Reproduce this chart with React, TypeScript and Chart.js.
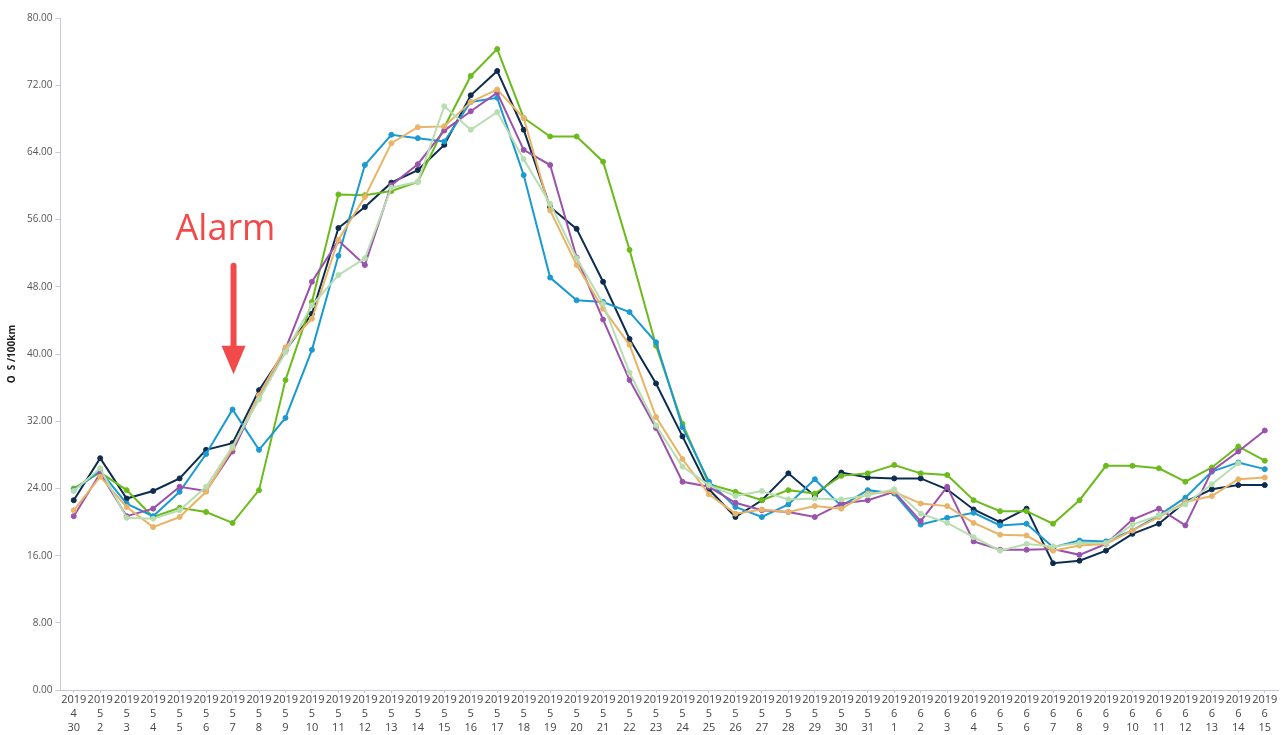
import React, { useEffect, useRef } from "react";
import { Chart, registerables } from "chart.js";

Chart.register(...registerables);

const years = Array(46).fill("2019");
const months = ["4", ...Array(31 - 1).fill("5"), ...Array(15).fill("6")];
const days = ["30", ...Array.from({ length: 30 }, (_, i) => String(i + 2)), ...Array.from({ length: 15 }, (_, i) => String(i + 1))];

const navyValues = [22.6, 27.6, 22.8, 23.7, 25.2, 28.6, 29.4, 35.7, 40.4, 44.8, 55.0, 57.5, 60.4, 61.9, 64.9, 70.8, 73.7, 66.7, 57.5, 54.9, 48.6, 41.8, 36.5, 30.2, 23.9, 20.6, 22.6, 25.8, 23.1, 25.9, 25.3, 25.2, 25.2, 23.9, 21.5, 20.0, 21.6, 15.1, 15.4, 16.6, 18.6, 19.8, 22.4, 23.9, 24.4, 24.4];
const blueValues = [23.8, 26.1, 22.2, 20.7, 23.6, 28.1, 33.4, 28.6, 32.4, 40.5, 51.7, 62.5, 66.1, 65.7, 65.3, 70.0, 70.5, 61.3, 49.1, 46.4, 46.2, 45.0, 41.4, 31.3, 24.8, 21.8, 20.6, 22.1, 25.1, 21.9, 23.8, 23.4, 19.7, 20.5, 21.1, 19.6, 19.8, 17.0, 17.8, 17.7, 19.0, 20.8, 22.9, 26.0, 27.1, 26.3];
const greenValues = [24.0, 25.9, 23.8, 20.6, 21.7, 21.2, 19.9, 23.8, 36.9, 46.2, 59.0, 58.9, 59.4, 60.5, 67.0, 73.1, 76.3, 68.1, 65.9, 65.9, 62.9, 52.4, 41.0, 31.7, 24.5, 23.6, 22.6, 23.8, 23.4, 25.5, 25.8, 26.8, 25.8, 25.6, 22.6, 21.3, 21.3, 19.8, 22.6, 26.7, 26.7, 26.4, 24.8, 26.5, 29.0, 27.3];
const orangeValues = [21.4, 25.4, 21.8, 19.4, 20.6, 23.6, 28.8, 35.1, 40.8, 44.2, 53.6, 58.7, 65.1, 67.0, 67.1, 70.0, 71.5, 68.1, 57.1, 50.6, 45.4, 41.1, 32.5, 27.5, 23.3, 21.0, 21.5, 21.2, 21.9, 21.6, 23.4, 23.6, 22.2, 21.9, 19.9, 18.5, 18.4, 16.6, 17.2, 17.4, 19.0, 20.6, 22.4, 23.1, 25.1, 25.3];
const purpleValues = [20.7, 25.8, 20.7, 21.6, 24.2, 23.7, 28.4, 35.0, 40.6, 48.6, 53.5, 50.6, 60.1, 62.6, 66.6, 68.9, 71.1, 64.3, 62.5, 51.5, 44.1, 36.9, 31.2, 24.8, 24.2, 22.3, 21.4, 21.2, 20.6, 22.2, 22.6, 23.6, 20.1, 24.2, 17.7, 16.7, 16.7, 16.8, 16.1, 17.4, 20.3, 21.6, 19.6, 26.1, 28.4, 30.9];
const lightGreenValues = [23.7, 26.4, 20.5, 20.4, 21.4, 24.2, 29.0, 34.6, 40.2, 45.8, 49.4, 51.4, 59.8, 60.5, 69.5, 66.7, 68.8, 63.2, 57.9, 51.4, 46.0, 37.8, 31.5, 26.6, 24.4, 23.1, 23.7, 22.7, 22.8, 22.7, 23.2, 23.9, 21.0, 19.9, 18.2, 16.6, 17.4, 17.1, 17.5, 17.5, 19.7, 20.8, 22.1, 24.5, 27.0, null];

const yTicks = [0, 8, 16, 24, 32, 40, 48, 56, 64, 72, 80];
const yTitle = "O  S /100km";
const alarmText = "Alarm";
const alarmIndex = 6;

const seriesList = [
  { name: "s6", data: lightGreenValues, color: "#b8ddb0" },
  { name: "s5", data: orangeValues, color: "#e9b467" },
  { name: "s4", data: purpleValues, color: "#9b52ad" },
  { name: "s3", data: blueValues, color: "#1b9ad2" },
  { name: "s2", data: greenValues, color: "#6cbb1c" },
  { name: "s1", data: navyValues, color: "#0d2c4f" },
];

const alarmPlugin = {
  id: "alarm",
  afterDatasetsDraw(chart: any) {
    const { ctx, scales } = chart;
    const x = scales.x.getPixelForValue(alarmIndex);
    const red = "#f24a4a";
    ctx.save();
    ctx.fillStyle = red;
    ctx.font = "36px 'Open Sans', 'Noto Sans', sans-serif";
    ctx.textBaseline = "alphabetic";
    ctx.textAlign = "left";
    ctx.fillText(alarmText, x - 57, scales.y.getPixelForValue(53.6));
    const yTop = scales.y.getPixelForValue(50.5);
    const yHeadStart = scales.y.getPixelForValue(41.0);
    const yTip = scales.y.getPixelForValue(37.6);
    ctx.strokeStyle = red;
    ctx.lineWidth = 6;
    ctx.lineCap = "round";
    ctx.beginPath();
    ctx.moveTo(x + 1, yTop);
    ctx.lineTo(x + 1, yHeadStart + 2);
    ctx.stroke();
    ctx.beginPath();
    ctx.moveTo(x - 11, yHeadStart);
    ctx.lineTo(x + 13, yHeadStart);
    ctx.lineTo(x + 1, yTip);
    ctx.closePath();
    ctx.fill();
    ctx.restore();
  },
};

export default function App() {
  const ref = useRef<HTMLCanvasElement>(null);
  useEffect(() => {
    document.body.style.margin = "0";
    const labels = years.map((y, i) => [y, months[i], days[i]]);
    const chart = new Chart(ref.current!, {
      type: "line",
      data: {
        labels,
        datasets: seriesList.map((s) => ({
          label: s.name,
          data: s.data,
          borderColor: s.color,
          backgroundColor: s.color,
          pointBackgroundColor: s.color,
          pointBorderColor: s.color,
          borderWidth: 2,
          pointRadius: 2.5,
          pointBorderWidth: 1,
          tension: 0,
          spanGaps: false,
        })),
      },
      options: {
        responsive: false,
        animation: false,
        layout: { padding: { left: 6, right: 2, top: 18, bottom: 0 } },
        plugins: { legend: { display: false }, tooltip: { enabled: false } },
        scales: {
          x: {
            offset: true,
            grid: { drawOnChartArea: false, drawTicks: true, tickLength: 3, color: "#c9c9d6" },
            border: { display: true, color: "#c9c9d6" },
            ticks: {
              maxRotation: 0,
              autoSkip: false,
              color: "#444",
              padding: 0,
              font: { size: 11, family: "'Open Sans', 'Noto Sans', sans-serif", lineHeight: 1.27 },
            },
          },
          y: {
            min: 0,
            max: 80,
            afterBuildTicks: (axis: any) => {
              axis.ticks = yTicks.map((v) => ({ value: v }));
            },
            grid: { drawOnChartArea: false, drawTicks: true, tickLength: 5, color: "#c9c9d6" },
            border: { display: true, color: "#c9c9d6" },
            ticks: {
              color: "#555",
              padding: 3,
              font: { size: 10, family: "'Open Sans', 'Noto Sans', sans-serif" },
              callback: (v: any) => Number(v).toFixed(2),
            },
            title: {
              display: true,
              text: yTitle,
              color: "#222",
              padding: { top: 0, bottom: 6 },
              font: { size: 10, weight: "bold", family: "'Open Sans', 'Noto Sans', sans-serif" },
            },
          },
        },
      },
      plugins: [alarmPlugin],
    });
    return () => chart.destroy();
  }, []);
  return <canvas ref={ref} width={1283} height={735} style={{ display: "block" }} />;
}
